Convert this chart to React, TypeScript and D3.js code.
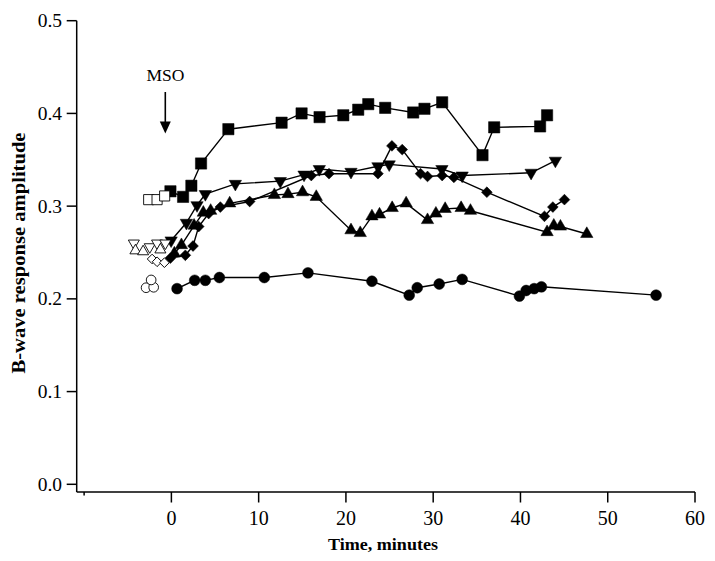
import React from "react";
import * as d3 from "d3";

// ---- Data (time in minutes, B-wave amplitude) ----
const squaresT = [-0.11, 1.34, 2.29, 3.4, 6.53, 12.63, 14.92, 16.98, 19.7, 21.41, 22.56, 24.5, 27.71, 29.0, 31.03, 35.65, 36.99, 42.25, 43.05];
const squaresV = [0.316, 0.31, 0.322, 0.346, 0.383, 0.39, 0.4, 0.396, 0.398, 0.404, 0.41, 0.406, 0.401, 0.405, 0.412, 0.355, 0.385, 0.386, 0.398];

const downT = [-0.03, 1.72, 2.94, 3.89, 7.33, 12.48, 15.2, 16.95, 20.58, 23.67, 24.96, 31.0, 33.32, 41.22, 44.0];
const downV = [0.263, 0.282, 0.301, 0.313, 0.324, 0.327, 0.334, 0.34, 0.337, 0.343, 0.345, 0.34, 0.333, 0.336, 0.349];

const diamondT = [-0.11, 1.6, 2.48, 3.13, 4.27, 5.61, 8.97, 16.03, 18.06, 23.67, 25.27, 26.45, 28.55, 29.35, 31.03, 32.37, 36.15, 42.75, 43.71, 45.04];
const diamondV = [0.244, 0.247, 0.257, 0.278, 0.292, 0.299, 0.305, 0.333, 0.335, 0.335, 0.365, 0.361, 0.335, 0.332, 0.333, 0.331, 0.315, 0.289, 0.299, 0.307];

const upT = [0.34, 1.15, 2.6, 3.66, 4.5, 6.68, 11.8, 13.36, 15.03, 16.6, 20.58, 21.64, 22.98, 23.85, 25.3, 26.9, 29.35, 30.31, 31.37, 33.2, 34.27, 43.05, 43.82, 44.58, 47.6];
const upV = [0.249, 0.258, 0.279, 0.293, 0.295, 0.303, 0.312, 0.313, 0.315, 0.31, 0.274, 0.271, 0.289, 0.291, 0.298, 0.303, 0.285, 0.292, 0.297, 0.298, 0.295, 0.272, 0.279, 0.278, 0.27];

const circleT = [0.65, 2.67, 3.89, 5.5, 10.65, 15.65, 22.98, 27.25, 28.17, 30.69, 33.32, 39.88, 40.65, 41.57, 42.4, 55.54];
const circleV = [0.211, 0.22, 0.22, 0.223, 0.223, 0.228, 0.219, 0.204, 0.212, 0.216, 0.221, 0.203, 0.209, 0.211, 0.213, 0.204];

// Baseline (open) markers, not connected
const openSquareT = [-2.6, -1.64, -0.77];
const openSquareV = [0.307, 0.307, 0.311];
const openDownT = [-4.3, -2.48, -1.64, -0.69];
const openDownV = [0.26, 0.256, 0.26, 0.26];
const openUpT = [-4.12, -3.24, -1.26];
const openUpV = [0.252, 0.251, 0.253];
const openDiamondT = [-2.21, -1.64, -0.8];
const openDiamondV = [0.243, 0.24, 0.239];
const openCircleT = [-2.9, -2.03, -2.32];
const openCircleV = [0.212, 0.2125, 0.2204];

const yTicks = [0.0, 0.1, 0.2, 0.3, 0.4, 0.5];
const xTicks = [0, 10, 20, 30, 40, 50, 60];

const FONT = "'Liberation Serif', 'Times New Roman', serif";

const x = d3.scaleLinear().domain([-10.85, 60]).range([76.7, 695]);
const y = d3.scaleLinear().domain([0, 0.5]).range([484.3, 20.7]);
const axisY = 492;

type Kind = "square" | "circle" | "up" | "down" | "diamond";

function symPath(kind: Kind, open: boolean): string {
  const s = open ? 0.8 : 1;
  switch (kind) {
    case "square":
      return d3.symbol(d3.symbolSquare, 128 * s)() as string;
    case "circle":
      return d3.symbol(d3.symbolCircle, 92 * s)() as string;
    case "up":
    case "down":
      return d3.symbol(d3.symbolTriangle, 66 * s)() as string;
    case "diamond":
      return d3.symbol(d3.symbolSquare, 58 * s)() as string;
  }
}

function rot(kind: Kind) {
  if (kind === "down") return " rotate(180)";
  if (kind === "diamond") return " rotate(45)";
  return "";
}

const line = d3
  .line<[number, number]>()
  .x((d) => x(d[0]))
  .y((d) => y(d[1]));

function Series({ t, v, kind, open }: { t: number[]; v: number[]; kind: Kind; open?: boolean }) {
  const pts: [number, number][] = t.map((tt, i) => [tt, v[i]]);
  const p = symPath(kind, !!open);
  return (
    <g>
      {!open && <path d={line(pts) as string} fill="none" stroke="#000" strokeWidth={1.4} />}
      {pts.map((d, i) => (
        <path
          key={i}
          d={p}
          transform={`translate(${x(d[0])},${y(d[1])})${rot(kind)}`}
          fill={open ? "#fff" : "#000"}
          stroke="#000"
          strokeWidth={open ? 0.9 : 0.5}
        />
      ))}
    </g>
  );
}

export default function App() {
  return (
    <svg
      width={715}
      height={561}
      style={{ position: "absolute", left: 0, top: 0, background: "#fff" }}
      fontFamily={FONT}
    >
      <rect width={715} height={561} fill="#fff" />
      {/* Axes */}
      <line x1={x.range()[0]} x2={x.range()[0]} y1={y(0.5)} y2={axisY} stroke="#000" strokeWidth={1.5} />
      <line x1={x.range()[0]} x2={x(60)} y1={axisY} y2={axisY} stroke="#000" strokeWidth={1.5} />
      {yTicks.map((t) => (
        <g key={t}>
          <line x1={x.range()[0] - 10} x2={x.range()[0]} y1={y(t)} y2={y(t)} stroke="#000" strokeWidth={1.5} />
          <text x={62} y={y(t) + 6.5} textAnchor="end" fontSize={19.5}>
            {t.toFixed(1)}
          </text>
        </g>
      ))}
      <line x1={x(-10)} x2={x(-10)} y1={axisY} y2={axisY + 3.5} stroke="#000" strokeWidth={1.5} />
      {xTicks.map((t) => (
        <g key={t}>
          <line x1={x(t)} x2={x(t)} y1={axisY} y2={axisY + 10.5} stroke="#000" strokeWidth={1.5} />
          <text x={x(t)} y={525} textAnchor="middle" fontSize={20}>
            {t}
          </text>
        </g>
      ))}
      <text x={383} y={550} textAnchor="middle" fontSize={17} fontWeight="bold" textLength={110} lengthAdjust="spacingAndGlyphs">
        Time, minutes
      </text>
      <text
        transform={`translate(25,253) rotate(-90)`}
        textAnchor="middle"
        fontSize={18}
        fontWeight="bold"
        textLength={241}
        lengthAdjust="spacingAndGlyphs"
      >
        B-wave response amplitude
      </text>

      {/* MSO annotation */}
      <text x={165.5} y={81} textAnchor="middle" fontSize={17.5}>
        MSO
      </text>
      <line x1={165.3} x2={165.3} y1={92} y2={125} stroke="#000" strokeWidth={1.6} />
      <path d={`M${159.8},${121.5} L${170.8},${121.5} L${165.3},${133.5} Z`} fill="#000" />

      {/* Series */}
      <Series t={circleT} v={circleV} kind="circle" />
      <Series t={upT} v={upV} kind="up" />
      <Series t={diamondT} v={diamondV} kind="diamond" />
      <Series t={downT} v={downV} kind="down" />
      <Series t={squaresT} v={squaresV} kind="square" />

      <Series t={openSquareT} v={openSquareV} kind="square" open />
      <Series t={openDownT} v={openDownV} kind="down" open />
      <Series t={openUpT} v={openUpV} kind="up" open />
      <Series t={openDiamondT} v={openDiamondV} kind="diamond" open />
      <Series t={openCircleT} v={openCircleV} kind="circle" open />
    </svg>
  );
}
